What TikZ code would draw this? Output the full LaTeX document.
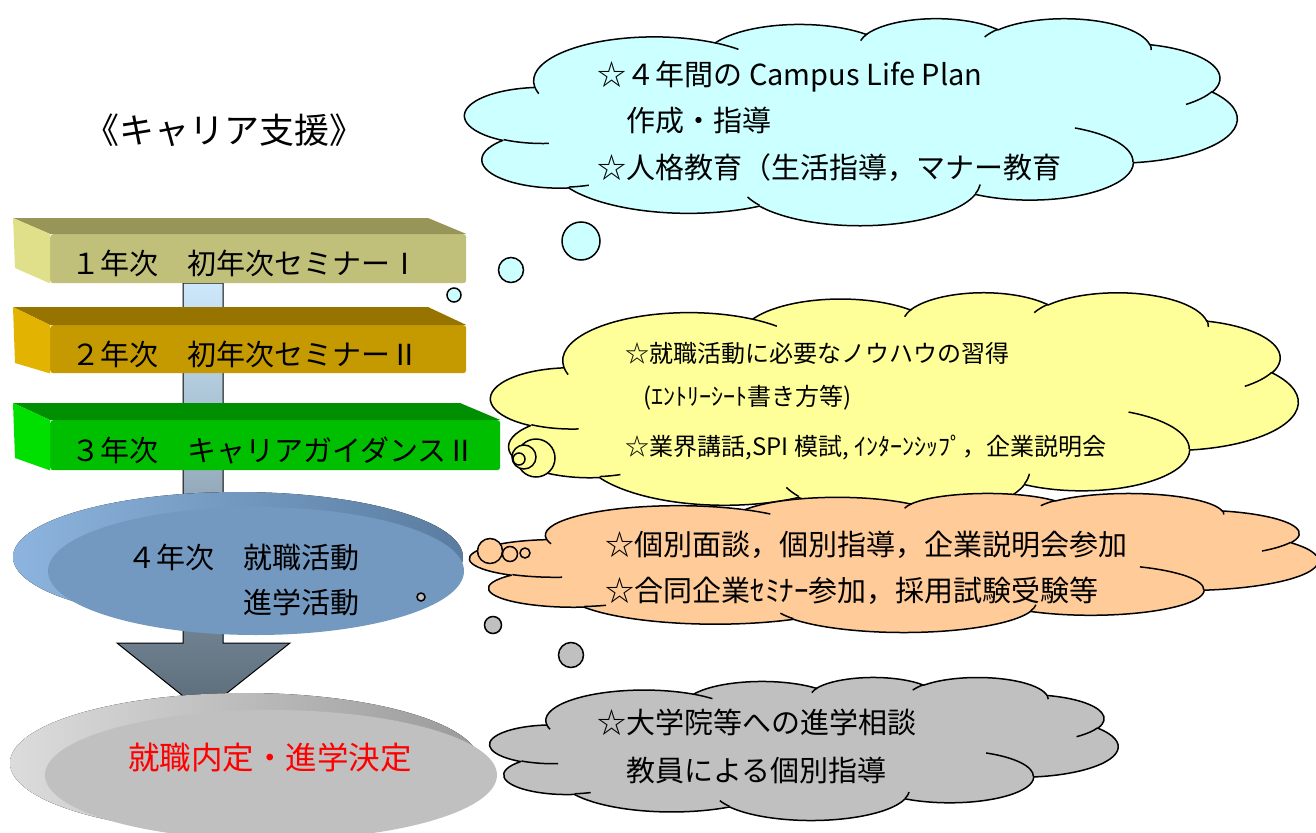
\documentclass[tikz,border=0pt]{standalone}
\usepackage{fontspec}
\setmainfont{Noto Sans CJK JP}
\usetikzlibrary{shapes.geometric,calc,positioning}

\definecolor{olivefront}{HTML}{C0C07A}
\definecolor{olivetop}{HTML}{979658}
\definecolor{oliveside}{HTML}{E0E08A}
\definecolor{goldfront}{HTML}{C59A00}
\definecolor{goldtop}{HTML}{977400}
\definecolor{goldside}{HTML}{E2B300}
\definecolor{greenfront}{HTML}{00BF00}
\definecolor{greentop}{HTML}{008F00}
\definecolor{greenside}{HTML}{00E000}
\definecolor{bluefront}{HTML}{7399C1}
\definecolor{bluelight}{HTML}{8CB4DE}
\definecolor{bluedark}{HTML}{5A7CA0}
\definecolor{grayfront}{HTML}{C0C0C0}
\definecolor{graylight}{HTML}{DCDCDC}
\definecolor{graydark}{HTML}{9A9A9A}
\definecolor{arrowtop}{HTML}{CCE8FA}
\definecolor{arrowbot}{HTML}{5A6A78}
\definecolor{cloudcyan}{HTML}{CCFFFF}
\definecolor{cloudyellow}{HTML}{FFFF99}
\definecolor{cloudorange}{HTML}{FFCC99}
\definecolor{cloudgray}{HTML}{C0C0C0}

% elliptic arc given by visual start angle and sweep
\newcommand{\cang}[3]{atan2((#1)*sin(#3),(#2)*cos(#3))}
\newcommand{\puff}[4]{arc[x radius=#1, y radius=#2, start angle={\cang{#1}{#2}{#3}},
  delta angle={\cang{#1}{#2}{#3+#4}-\cang{#1}{#2}{#3}+360*round((#4-\cang{#1}{#2}{#3+#4}+\cang{#1}{#2}{#3})/360)}]}
% cloud in a 432x432 box: left, top, width, height, colour
\newcommand{\thoughtcloud}[5]{%
  \begin{scope}[shift={(#1,#2)}, xscale=#3/432, yscale=#4/432]
    \filldraw[cloudline, fill=#5] (39.00,143.70)
      \puff{67.53}{91.90}{-190.4875}{123.7805} \puff{53.33}{72.67}{-144.1024}{89.9452}
      \puff{43.65}{59.45}{-145.8079}{99.7230} \puff{48.57}{65.95}{-130.9861}{117.2417}
      \puff{53.33}{72.73}{-78.7089}{109.0269} \puff{67.75}{92.20}{-46.2673}{130.2690}
      \puff{57.85}{78.67}{0.6250}{114.0333} \puff{67.52}{92.15}{22.4516}{115.1726}
      \puff{77.20}{105.43}{66.2426}{75.7110} \puff{43.60}{59.18}{-274.9421}{146.7356}
      \puff{43.45}{59.45}{-246.8285}{152.5189} -- cycle;
    \draw[cloudline] (46.93,261.77) \puff{43.45}{59.45}{86.7420}{26.4295}
      (69.28,348.99) \puff{43.60}{59.18}{73.6105}{11.4475}
      (164.78,390.90) \puff{67.52}{92.15}{137.6242}{14.0811}
      (288.27,347.51) \puff{67.52}{92.15}{6.4533}{15.9984}
      (341.29,229.54) \puff{57.85}{78.67}{-70.2924}{70.9174}
      (417.98,153.54) \puff{53.33}{72.73}{30.3180}{27.7515}
      (383.24,54.26) \puff{48.57}{65.95}{-13.7443}{14.8589}
      (290.78,39.52) \puff{48.57}{65.95}{-149.1815}{18.1954}
      (221.41,47.20) \puff{43.65}{59.45}{-163.4943}{17.6864}
      (140.00,51.92) \puff{67.53}{91.90}{-66.7070}{12.3194}
      (41.27,157.89) \puff{67.53}{91.90}{157.6544}{11.8582};
  \end{scope}}

\begin{document}
\begin{tikzpicture}[x=1pt,y=-1pt,
  yearbox/.style={rectangle, inner sep=0pt, anchor=north west, rounded corners=3pt},
  yeartext/.style={anchor=west, font=\fontsize{29}{33}\selectfont},
  disk/.style={ellipse, inner sep=0pt},
  cloudline/.style={line width=1.5pt, line join=round},
  bubble/.style={circle, draw, line width=1.5pt, inner sep=0pt},
  cloudtext/.style={anchor=west, align=left}]
\useasboundingbox (0,0) rectangle (1316,832);

% title
\node[font=\fontsize{35}{40}\selectfont] (title) at (224,130) {《キャリア支援》};

% big arrow
\draw[line width=1pt, top color=arrowtop, bottom color=arrowbot]
  (183,283) -- (183,643) -- (117,643) -- (203,712) -- (290,643) -- (223,643) -- (223,283) -- cycle;

% 1st year
\node[yearbox, minimum width=416pt, minimum height=49pt, fill=olivefront] (y1) at (50,234) {};
\fill[olivetop] (y1.north west) -- ++(-37,-16) -- ++(415,0) -- (y1.north east) -- cycle;
\fill[oliveside] (y1.north west) -- ++(-37,-16) -- ++(2,50) -- (y1.south west) -- cycle;
\node[yeartext] (t1) at ([xshift=18pt,yshift=-5pt]y1.west) {１年次　初年次セミナーⅠ};

% 2nd year
\node[yearbox, minimum width=416pt, minimum height=48pt, fill=goldfront] (y2) at (50,325) {};
\fill[goldtop] (y2.north west) -- ++(-37,-18) -- ++(415,0) -- (y2.north east) -- cycle;
\fill[goldside] (y2.north west) -- ++(-37,-18) -- ++(2,56) -- (y2.south west) -- cycle;
\node[yeartext] (t2) at ([xshift=18pt,yshift=-5pt]y2.west) {２年次　初年次セミナーⅡ};

% 3rd year
\node[yearbox, minimum width=450pt, minimum height=50pt, fill=greenfront] (y3) at (50,420) {};
\fill[greentop] (y3.north west) -- ++(-37,-17) -- ++(447,0) -- (y3.north east) -- cycle;
\fill[greenside] (y3.north west) -- ++(-37,-17) -- ++(2,55) -- (y3.south west) -- cycle;
\node[yeartext] (t3) at ([xshift=18pt,yshift=-5pt]y3.west) {３年次　キャリアガイダンスⅡ};

% 4th year disk
\fill[left color=bluelight, right color=bluedark] (238,557) ellipse [x radius=225, y radius=65];
\node[disk, minimum width=416pt, minimum height=128pt, fill=bluefront] (y4) at (256,571) {};
\node[yeartext] (t4a) at (124,557) {４年次　就職活動};
\node[yeartext] (t4b) at (240,602) {進学活動};

% goal disk
\fill[left color=graylight, right color=graydark] (245,763) ellipse [x radius=235, y radius=70];
\node[disk, minimum width=452pt, minimum height=130pt, fill=grayfront] (goal) at (271,775) {};
\node[font=\fontsize{31.5}{36}\selectfont, text=red] (tgoal) at (270,758) {就職内定・進学決定};

% clouds
\thoughtcloud{465}{18}{772}{207}{cloudcyan}
\node[cloudtext, font=\fontsize{29}{46.5}\selectfont] (tplan) at (594,121)
  {☆４年間の Campus Life Plan\\　作成・指導\\☆人格教育（生活指導，マナー教育};
\node[bubble, fill=cloudcyan, minimum width=36pt, minimum height=38pt] (p1) at (581,241) {};
\node[bubble, fill=cloudcyan, minimum size=25pt] (p2) at (511,270) {};
\node[bubble, fill=cloudcyan, minimum size=14pt] (p3) at (454,295) {};

\thoughtcloud{491}{292}{807}{226}{cloudyellow}
\node[cloudtext, font=\fontsize{24}{28}\selectfont] (k1) at (622,353) {☆就職活動に必要なノウハウの習得};
\node[cloudtext, font=\fontsize{24}{28}\selectfont] (k2) at (640,398) {(ｴﾝﾄﾘｰｼｰﾄ書き方等)};
\node[cloudtext, font=\fontsize{24}{28}\selectfont] (k3) at (622,448) {☆業界講話,SPI 模試, ｲﾝﾀｰﾝｼｯﾌﾟ，企業説明会};
\node[bubble, fill=cloudyellow, minimum size=38pt] (kb1) at (536,458) {};
\node[bubble, fill=cloudyellow, minimum size=24pt] (kb2) at (524,457) {};
\node[bubble, fill=cloudyellow, minimum size=12pt] (kb3) at (519,459) {};

\thoughtcloud{470}{493}{848}{139}{cloudorange}
\node[cloudtext, font=\fontsize{29}{46}\selectfont] (tvisit) at (602,568)
  {☆個別面談，個別指導，企業説明会参加\\☆合同企業ｾﾐﾅｰ参加，採用試験受験等};
\node[bubble, fill=cloudorange, minimum size=25pt] (v1) at (490,551) {};
\node[bubble, fill=cloudorange, minimum size=15pt] (v2) at (510,554) {};
\node[bubble, fill=cloudorange, minimum size=10pt] (v3) at (525,553) {};

\node[bubble, fill=cloudgray, minimum size=8pt] (g1) at (421,597) {};
\node[bubble, fill=cloudgray, minimum size=17pt] (g2) at (493,625) {};
\node[bubble, fill=cloudgray, minimum size=25pt] (g3) at (571,655) {};
\thoughtcloud{490}{677}{628}{143}{cloudgray}
\node[cloudtext, font=\fontsize{29}{48}\selectfont] (tgrad) at (594,746)
  {☆大学院等への進学相談\\　教員による個別指導};
\end{tikzpicture}
\end{document}
